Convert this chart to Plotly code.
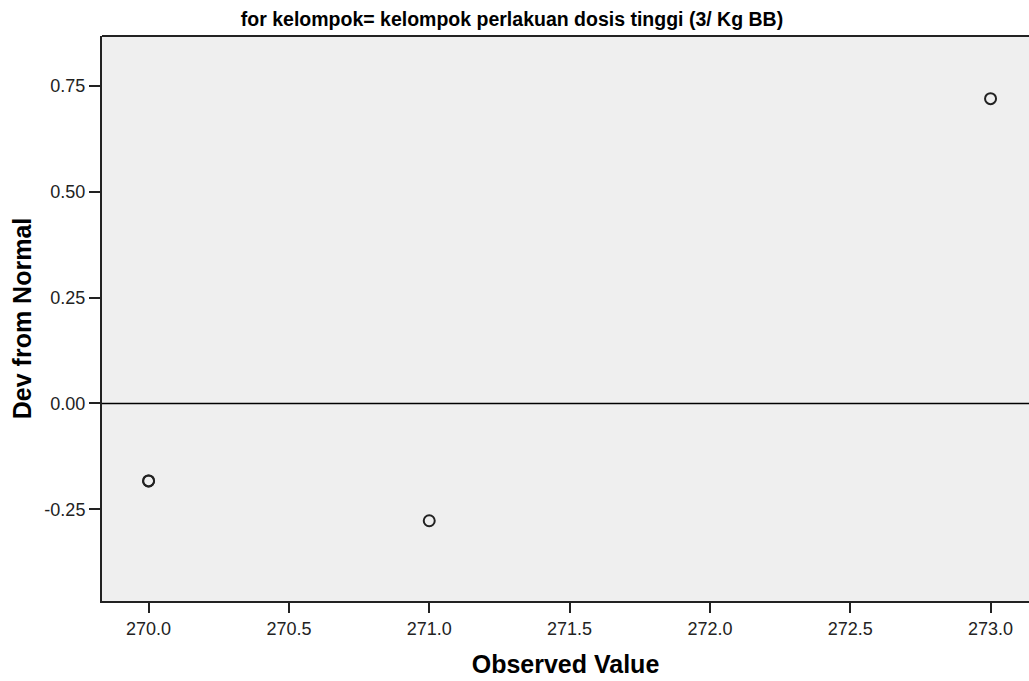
import plotly.graph_objects as go

observed = [270.0, 270.0, 271.0, 273.0]
deviation = [-0.183, -0.183, -0.277, 0.720]
x_ticks = [270.0, 270.5, 271.0, 271.5, 272.0, 272.5, 273.0]
y_ticks = [-0.25, 0.0, 0.25, 0.50, 0.75]

fig = go.Figure()
fig.add_trace(go.Scatter(
    x=observed, y=deviation, mode="markers",
    marker=dict(symbol="circle-open", size=11, color="#222222",
                line=dict(width=2, color="#222222")),
    showlegend=False, hoverinfo="x+y"))

fig.add_hline(y=0, line=dict(color="#000000", width=1.6))

font_family = "Liberation Sans, Arial, sans-serif"
fig.update_layout(
    width=1029, height=681,
    margin=dict(l=102, r=0, t=36, b=80),
    paper_bgcolor="white",
    plot_bgcolor="#efefef",
    font=dict(family=font_family, color="#222222", size=12),
    title=dict(text="<b>for kelompok= kelompok perlakuan dosis tinggi (3/ Kg BB)</b>",
               x=512/1029, xanchor="center", xref="container",
               y=1 - 19/681, yref="container", yanchor="middle",
               font=dict(size=19.5, color="#000000", family=font_family)),
    xaxis=dict(range=[269.834, 273.137], tickvals=x_ticks,
               ticktext=[f"{v:.1f}" for v in x_ticks],
               showgrid=False, zeroline=False,
               showline=True, linecolor="#222222", linewidth=2,
               ticks="outside", ticklen=10, tickwidth=2, tickcolor="#222222",
               tickfont=dict(size=18, color="#222222"),
               title=dict(text="<b>Observed Value</b>", standoff=18,
                          font=dict(size=25, color="#000000"))),
    yaxis=dict(range=[-0.4666, 0.868], tickvals=y_ticks,
               ticktext=[f"{v:.2f}" for v in y_ticks],
               showgrid=False, zeroline=False,
               showline=True, linecolor="#222222", linewidth=2,
               ticks="outside", ticklen=11, tickwidth=2, tickcolor="#222222",
               tickfont=dict(size=18, color="#222222"),
               title=dict(text="<b>Dev from Normal</b>", standoff=6,
                          font=dict(size=25, color="#000000"))),
)
fig.add_shape(type="line", xref="paper", yref="paper", x0=0, x1=1, y0=1, y1=1,
              line=dict(color="#222222", width=2))

fig.write_html("out.html")
